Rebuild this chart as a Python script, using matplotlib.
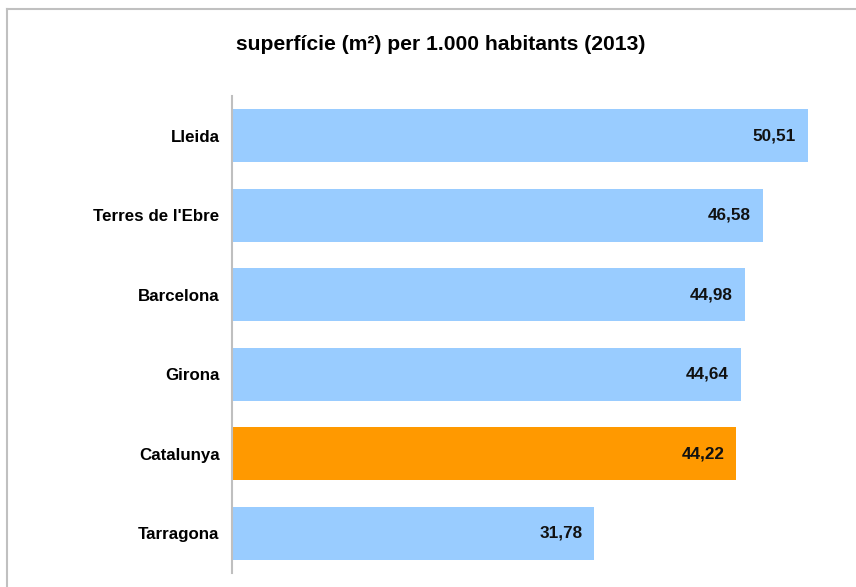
import matplotlib
matplotlib.use("Agg")
import matplotlib.pyplot as plt
from matplotlib.lines import Line2D

plt.rcParams.update({
    "font.family": ["Liberation Sans", "DejaVu Sans"],
    "font.weight": "bold",
})

REGIONS = ["Lleida", "Terres de l'Ebre", "Barcelona", "Girona", "Catalunya", "Tarragona"]
VALUES = [50.51, 46.58, 44.98, 44.64, 44.22, 31.78]
HIGHLIGHT = "Catalunya"
TITLE = "superfície (m²) per 1.000 habitants (2013)"

BLUE, ORANGE = "#99CCFF", "#FF9900"


def main():
    fig = plt.figure(figsize=(8.56, 5.87), dpi=100)
    # outer frame: only the top and left edges fall inside the picture
    fx, fy = 7 / 856, 1 - 9 / 587
    fig.add_artist(Line2D([fx, 1.0], [fy, fy], transform=fig.transFigure,
                          color="#C0C0C0", lw=1.5))
    fig.add_artist(Line2D([fx, fx], [0.0, fy], transform=fig.transFigure,
                          color="#C0C0C0", lw=1.5))
    ax = fig.add_axes([232 / 856, 14 / 587, 0.7325, 477 / 587])

    ypos = list(range(len(REGIONS)))
    colors = [ORANGE if r == HIGHLIGHT else BLUE for r in REGIONS]
    ax.barh(ypos, VALUES, height=0.67, color=colors, edgecolor="none")
    for y, v in zip(ypos, VALUES):
        ax.text(v - 1.05, y, f"{v:.2f}".replace(".", ","), ha="right", va="center",
                fontsize=12.3, fontweight="bold", color="#111111")

    ax.set_xlim(0, 55)
    ax.set_ylim(len(REGIONS) - 0.5, -0.5)
    ax.set_yticks(ypos)
    ax.set_yticklabels(REGIONS, fontsize=12.2, fontweight="bold")
    ax.tick_params(axis="y", length=0, pad=9)
    ax.set_xticks([])
    for side in ("top", "right", "bottom"):
        ax.spines[side].set_visible(False)
    ax.spines["left"].set_color("#BFBFBF")
    ax.spines["left"].set_linewidth(1.5)

    fig.text(441 / 856, 1 - 45 / 587, TITLE, ha="center", va="center",
             fontsize=15.2, fontweight="bold")
    fig.savefig("out.png", dpi=100)


if __name__ == "__main__":
    main()
